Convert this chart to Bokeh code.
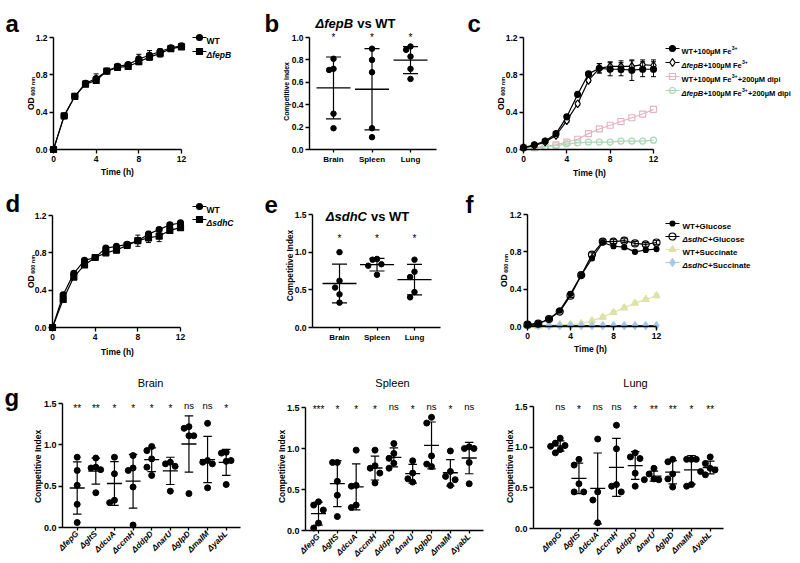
import math
import numpy as np
from bokeh.plotting import figure
from bokeh.models import Range1d, FixedTicker, PrintfTickFormatter, CustomJSTickFormatter
from bokeh.layouts import row, column
from bokeh.core.properties import value
from bokeh.embed import file_html
from bokeh.resources import INLINE

FONT = "Liberation Sans"

# ------------------------------------------------------------------ data
hours = list(range(13))

# panel a : WT vs dfepB growth
a_wt = [0.00, 0.36, 0.57, 0.71, 0.76, 0.84, 0.89, 0.91, 0.97, 1.01, 1.05, 1.09, 1.11]
a_wt_sd = [0.01, 0.01, 0.01, 0.02, 0.05, 0.02, 0.02, 0.02, 0.05, 0.05, 0.03, 0.02, 0.02]
a_fepB = [0.00, 0.36, 0.57, 0.70, 0.74, 0.84, 0.88, 0.89, 0.94, 0.99, 1.03, 1.08, 1.10]
a_fepB_sd = [0.01, 0.01, 0.01, 0.02, 0.03, 0.02, 0.02, 0.02, 0.03, 0.03, 0.04, 0.02, 0.02]

# panel b : competitive index dfepB vs WT
organs = ["Brain", "Spleen", "Lung"]
b_brain = [0.81, 0.72, 0.71, 0.32, 0.19]
b_spleen = [0.90, 0.80, 0.69, 0.19, 0.11]
b_lung = [0.92, 0.89, 0.83, 0.72, 0.63]
b_sig = ["*", "*", "*"]

# panel c : iron / dipyridyl growth
c_wt_fe = [0.02, 0.05, 0.09, 0.17, 0.35, 0.59, 0.81, 0.87, 0.86, 0.86, 0.85, 0.86, 0.86]
c_wt_fe_sd = [0.01, 0.01, 0.01, 0.02, 0.02, 0.02, 0.02, 0.05, 0.07, 0.07, 0.11, 0.08, 0.08]
c_fepB_fe = [0.02, 0.04, 0.08, 0.15, 0.31, 0.49, 0.74, 0.87, 0.89, 0.89, 0.89, 0.91, 0.90]
c_fepB_fe_sd = [0.01, 0.01, 0.01, 0.02, 0.02, 0.02, 0.02, 0.05, 0.05, 0.06, 0.06, 0.05, 0.06]
c_wt_dipi = [0.02, 0.02, 0.03, 0.05, 0.08, 0.11, 0.17, 0.22, 0.26, 0.30, 0.34, 0.38, 0.43]
c_fepB_dipi = [0.02, 0.02, 0.03, 0.04, 0.06, 0.07, 0.08, 0.08, 0.08, 0.09, 0.09, 0.09, 0.10]

# panel d : WT vs dsdhC growth
d_wt = [0.00, 0.35, 0.58, 0.72, 0.75, 0.85, 0.87, 0.89, 0.93, 1.00, 1.05, 1.10, 1.12]
d_wt_sd = [0.01, 0.01, 0.01, 0.01, 0.03, 0.01, 0.02, 0.02, 0.03, 0.03, 0.02, 0.02, 0.02]
d_sdhC = [0.00, 0.30, 0.54, 0.67, 0.75, 0.80, 0.83, 0.88, 0.93, 0.96, 0.98, 1.04, 1.07]
d_sdhC_sd = [0.01, 0.01, 0.01, 0.02, 0.03, 0.02, 0.03, 0.03, 0.06, 0.05, 0.06, 0.03, 0.03]

# panel e : competitive index dsdhC vs WT
e_brain = [1.00, 0.62, 0.53, 0.44, 0.33]
e_spleen = [0.91, 0.90, 0.84, 0.82, 0.70]
e_lung = [0.90, 0.74, 0.67, 0.47, 0.40]
e_sig = ["*", "*", "*"]

# panel f : glucose / succinate growth
f_wt_glc = [0.02, 0.03, 0.08, 0.17, 0.35, 0.55, 0.73, 0.90, 0.86, 0.85, 0.80, 0.82, 0.83]
f_sdhC_glc = [0.02, 0.03, 0.08, 0.16, 0.33, 0.55, 0.77, 0.91, 0.91, 0.92, 0.89, 0.88, 0.90]
f_wt_suc = [0.00, 0.00, 0.01, 0.02, 0.02, 0.03, 0.06, 0.10, 0.15, 0.20, 0.25, 0.29, 0.33]
f_sdhC_suc = [0.01, 0.01, 0.01, 0.01, 0.01, 0.01, 0.01, 0.01, 0.01, 0.01, 0.01, 0.01, 0.01]
f_sd = [0.01, 0.01, 0.01, 0.01, 0.02, 0.02, 0.02, 0.02, 0.02, 0.02, 0.02, 0.02, 0.02]

# panel g : mutants competitive index
genes = ["fepG", "gltS", "dcuA", "ccmH", "ddpD", "narU", "glpD", "malM", "yabL"]
g_brain = [
    [0.85, 0.69, 0.51, 0.28, 0.06],
    [0.84, 0.73, 0.72, 0.70, 0.42],
    [0.85, 0.65, 0.33, 0.30],
    [0.87, 0.72, 0.69, 0.49, 0.03],
    [0.98, 0.93, 0.83, 0.73, 0.63],
    [0.79, 0.77, 0.74, 0.44],
    [1.22, 1.20, 1.11, 1.11, 0.41],
    [1.26, 0.81, 0.79, 0.77, 0.48],
    [0.91, 0.90, 0.81, 0.80, 0.52],
]
g_brain_sig = ["**", "**", "*", "*", "*", "*", "ns", "ns", "*"]
g_spleen = [
    [0.35, 0.31, 0.25, 0.09, 0.03],
    [0.83, 0.83, 0.60, 0.43, 0.17],
    [0.98, 0.55, 0.54, 0.31, 0.28],
    [0.98, 0.79, 0.76, 0.70, 0.58],
    [1.06, 0.94, 0.88, 0.82, 0.76],
    [0.85, 0.70, 0.63, 0.59],
    [1.38, 1.31, 0.91, 0.81, 0.78],
    [0.97, 0.72, 0.66, 0.62, 0.55],
    [1.02, 1.00, 1.00, 0.83, 0.57],
]
g_spleen_sig = ["***", "*", "*", "*", "ns", "*", "ns", "*", "ns"]
g_lung = [
    [1.11, 1.05, 1.02, 1.01, 0.97, 0.93],
    [0.85, 0.78, 0.55, 0.45, 0.45],
    [1.10, 0.45, 0.35, 0.07],
    [1.27, 0.98, 0.54, 0.52, 0.45],
    [0.93, 0.88, 0.86, 0.68, 0.52],
    [0.74, 0.67, 0.61, 0.60, 0.60],
    [0.85, 0.82, 0.67, 0.61, 0.51],
    [0.85, 0.85, 0.85, 0.54, 0.52],
    [0.88, 0.80, 0.74, 0.72, 0.70, 0.66],
]
g_lung_sig = ["ns", "*", "ns", "ns", "*", "**", "**", "*", "**"]

# ------------------------------------------------------------------ helpers
WB = {' ': .278, '+': .584, '0': .556, '1': .556, '2': .556, '3': .556, '4': .556, '5': .556,
      '6': .556, '7': .556, '8': .556, '9': .556, 'µ': .611, 'M': .833, 'F': .611, 'e': .556,
      'd': .611, 'i': .278, 'p': .611, 'Δ': .70, 'f': .333, 'B': .722, 's': .556, 'h': .611,
      'C': .722, 'G': .778, 'l': .278, 'u': .611, 'c': .556, 'o': .611, 'S': .667, 'n': .611,
      'a': .556, 't': .333, 'W': .944, 'T': .611, 'v': .556, 'O': .778, 'D': .722, 'm': .889,
      '(': .333, ')': .333, '*': .389}


def tw(s, size):
    return sum(WB.get(ch, 0.6) for ch in s) * size


class Panel:
    def __init__(self, L, T, W, H, xa, ya):
        x0, X0, x1, X1 = xa
        y0, Y0, y1, Y1 = ya
        self.L, self.T = L, T
        self.sx = (X1 - X0) / (x1 - x0)
        self.xs = x0 - (X0 - L) / self.sx
        xe = self.xs + W / self.sx
        self.sy = (Y0 - Y1) / (y1 - y0)
        self.ye = y1 + (Y1 - T) / self.sy
        ys = self.ye - H / self.sy
        f = figure(width=W, height=H, x_range=Range1d(self.xs, xe), y_range=Range1d(ys, self.ye),
                   min_border=0, toolbar_location=None, output_backend="svg",
                   outline_line_color=None)
        f.grid.visible = False
        f.background_fill_color = "white"
        f.border_fill_color = "white"
        self.fig = f

    def dx(self, px):
        return self.xs + (px - self.L) / self.sx

    def dy(self, py):
        return self.ye - (py - self.T) / self.sy

    def wx(self, pw):
        return pw / self.sx

    def px(self, x):
        return self.L + (x - self.xs) * self.sx


def text(P, px, py, s, size, style="bold", align="center", baseline="middle", angle=0.0,
         color="black"):
    P.fig.text(x=[P.dx(px)], y=[P.dy(py)], text=[s], text_font=value(FONT),
               text_font_size=f"{size}px", text_font_style=style, text_align=align,
               text_baseline=baseline, angle=angle, text_color=color)


def rich(P, px, base_py, pieces, align="left"):
    widths = [tw(t, s) for t, s, st, r in pieces]
    x = px - (sum(widths) / 2 if align == "center" else 0)
    for (t, s, st, r), w in zip(pieces, widths):
        lead = len(t) - len(t.lstrip(" "))
        text(P, x + tw(" " * lead, s), base_py - r, t.lstrip(" "), s, style=st, align="left",
             baseline="alphabetic")
        x += w


def axes(P, xloc, yloc, xb, yb, xticks, yticks, yfmt, xformatter, xorient="horizontal",
         xstyle="bold", xsize="8px", ysize="8.5px"):
    f = P.fig
    xa = f.xaxis[0]
    ya = f.yaxis[0]
    xa.fixed_location = xloc
    ya.fixed_location = yloc
    xa.bounds = xb
    ya.bounds = yb
    xa.ticker = FixedTicker(ticks=xticks)
    ya.ticker = FixedTicker(ticks=yticks)
    ya.formatter = PrintfTickFormatter(format=yfmt)
    xa.formatter = xformatter
    for ax in (xa, ya):
        ax.axis_line_width = 1.4
        ax.axis_line_color = "black"
        ax.major_tick_line_width = 1.3
        ax.major_tick_line_color = "black"
        ax.major_tick_out = 4
        ax.major_tick_in = 0
        ax.minor_tick_out = 0
        ax.minor_tick_in = 0
        ax.major_label_text_font = FONT
        ax.major_label_text_font_style = "bold"
        ax.major_label_text_color = "black"
        ax.major_label_standoff = 2
    ya.major_label_text_font_size = ysize
    xa.major_label_orientation = xorient
    xa.major_label_text_font_style = xstyle
    xa.major_label_text_font_size = xsize


def od_label(P, cx, cy):
    w1 = tw("OD", 8.5)
    w2 = tw("600 nm", 5.5)
    start = cy + (w1 + 1.5 + w2) / 2
    text(P, cx, start, "OD", 8.5, align="left", angle=math.pi / 2)
    text(P, cx + 2.0, start - w1 - 1.5, "600 nm", 5.5, align="left", angle=math.pi / 2)


def curve(P, xs, ys, sd, marker, size, fill, color, lw=1.2, fill_alpha=1.0, line_color=None):
    f = P.fig
    lc = line_color or color
    f.line(xs, ys, line_color=lc, line_width=lw)
    if sd is not None:
        lo = [y - s for y, s in zip(ys, sd)]
        hi = [y + s for y, s in zip(ys, sd)]
        cw = P.wx(2.5)
        f.segment(xs, lo, xs, hi, line_color=color, line_width=1.0)
        f.segment([x - cw for x in xs], hi, [x + cw for x in xs], hi, line_color=color, line_width=1.0)
        f.segment([x - cw for x in xs], lo, [x + cw for x in xs], lo, line_color=color, line_width=1.0)
    f.scatter(xs, ys, marker=marker, size=size, fill_color=fill, fill_alpha=fill_alpha,
              line_color=color, line_width=1.2)


def legend_row(P, mx, tx, py, marker, size, fill, color, pieces, fill_alpha=1.0, tsize=7.5,
               line_color=None):
    f = P.fig
    y = P.dy(py)
    f.line([P.dx(mx - 7), P.dx(mx + 7)], [y, y], line_color=line_color or color, line_width=1.2)
    f.scatter([P.dx(mx)], [y], marker=marker, size=size, fill_color=fill, fill_alpha=fill_alpha,
              line_color=color, line_width=1.2)
    rich(P, tx, py + 0.36 * tsize, [(t, s or tsize, st, r) for t, s, st, r in pieces])


def swarm(vals, P, diam):
    order = sorted(range(len(vals)), key=lambda i: -vals[i])
    step = diam * 0.8
    placed = []
    offs = [0.0] * len(vals)
    for i in order:
        y = vals[i] * P.sy
        xx = 0.0
        for k in (0, -1, 1, -2, 2, -3, 3):
            xx = k * step
            if all(not (abs(xx - qx) < step * 0.9 and abs(y - qy) < diam * 1.5) for qx, qy in placed):
                break
        placed.append((xx, y))
        offs[i] = xx / P.sx
    return offs


def ci_groups(P, groups, diam, mean_px, cap_px, sig, sig_py, sig_size=10):
    f = P.fig
    for i, vals in enumerate(groups):
        m = float(np.mean(vals))
        s = float(np.std(vals, ddof=1))
        offs = swarm(vals, P, diam)
        f.scatter([i + o for o in offs], vals, marker="circle", size=diam, fill_color="black",
                  line_color="black")
        hw = P.wx(mean_px / 2)
        cw = P.wx(cap_px / 2)
        f.segment([i], [m - s], [i], [m + s], line_color="black", line_width=1.2)
        f.segment([i - hw], [m], [i + hw], [m], line_color="black", line_width=1.3)
        f.segment([i - cw, i - cw], [m - s, m + s], [i + cw, i + cw], [m - s, m + s],
                  line_color="black", line_width=1.2)
        mark = sig[i]
        if mark == "ns":
            text(P, P.px(i), sig_py + 0.27 * 9.5, mark, 9.5, style="normal", baseline="alphabetic")
        else:
            text(P, P.px(i), sig_py + 0.6 * sig_size, mark, sig_size, style="normal",
                 baseline="alphabetic")


def cat_formatter(labels):
    return CustomJSTickFormatter(args=dict(labels=labels),
                                 code="const i = Math.round(tick); return (i >= 0 && i < labels.length) ? labels[i] : '';")


def letter(P, x, base, s):
    text(P, x, base, s, 24, align="left", baseline="alphabetic")


# ------------------------------------------------------------------ panels (page pixels)
A = Panel(0, 0, 262, 180, (0, 53, 12, 181), (0, 149, 1.2, 37))
B = Panel(262, 0, 200, 180, (0, 333, 2, 410), (0, 149, 1.0, 37))
C = Panel(462, 0, 336, 180, (0, 523, 12, 653), (0, 149, 1.2, 37))
D = Panel(0, 180, 262, 185, (0, 52, 12, 180), (0, 327, 1.2, 215))
E = Panel(262, 180, 200, 185, (0, 339, 2, 414), (0, 327, 1.5, 214))
F = Panel(462, 180, 336, 185, (0, 527, 12, 656), (0, 326, 1.2, 214))
G1 = Panel(0, 365, 262, 195, (0, 76.7, 8, 225.7), (0, 527, 1.5, 403))
G2 = Panel(262, 365, 240, 195, (0, 318, 8, 468.7), (0, 530, 1.5, 407))
G3 = Panel(502, 365, 296, 195, (0, 559.7, 8, 709.7), (0, 528, 1.5, 406))

grow_ticks = [0, 4, 8, 12]
od_ticks = [0, 0.4, 0.8, 1.2]

for P in (A, C, D, F):
    axes(P, 0, 0, (0, 12), (0, 1.2), grow_ticks, od_ticks, "%.1f", PrintfTickFormatter(format="%d"),
         xsize="8.5px")

# ---- a
curve(A, hours, a_fepB, a_fepB_sd, "square", 6, "black", "black")
curve(A, hours, a_wt, a_wt_sd, "circle", 6, "black", "black")
letter(A, 5, 23, "a")
legend_row(A, 199, 206, 37, "circle", 6, "black", "black", [("WT", None, "bold", 0)], tsize=8.5)
legend_row(A, 199, 206, 51, "square", 6, "black", "black", [("ΔfepB", None, "bold italic", 0)],
           tsize=8.5)
text(A, 117, 171, "Time (h)", 8.5)
od_label(A, 30, 93)

# ---- b
axes(B, 0, B.dx(309), (B.dx(309), B.dx(436)), (0, 1.0), [0, 1, 2], [0, 0.2, 0.4, 0.6, 0.8, 1.0],
     "%.1f", cat_formatter(organs))
B.fig.xaxis[0].major_tick_out = 3
ci_groups(B, [b_brain, b_spleen, b_lung], 5.5, 34, 15, b_sig, 31)
letter(B, 264, 23, "b")
rich(B, 355, 18 + 0.36 * 13, [("ΔfepB", 13, "bold italic", 0), (" vs WT", 13, "bold", 0)],
     align="center")
text(B, 286, 91, "Competitive Index", 6.8, angle=math.pi / 2)

# ---- c
PINK = "#e6b3bf"
GREEN = "#a9d8b2"
curve(C, hours, c_wt_dipi, None, "square", 6, "white", PINK, fill_alpha=0.0)
curve(C, hours, c_fepB_dipi, None, "circle", 6, "white", GREEN, fill_alpha=0.0)
curve(C, hours, c_fepB_fe, c_fepB_fe_sd, "diamond", 8, "white", "black")
curve(C, hours, c_wt_fe, c_wt_fe_sd, "circle", 6, "black", "black")
letter(C, 467, 23, "c")
text(C, 589, 172, "Time (h)", 8.5)
od_label(C, 500, 93)
sup = ("3+", 5.2, "bold", 3.2)
legend_row(C, 672, 681, 48, "circle", 6, "black", "black",
           [("WT+100µM Fe", None, "bold", 0), sup])
legend_row(C, 672, 681, 62, "diamond", 8, "white", "black",
           [("ΔfepB", None, "bold italic", 0), ("+100µM Fe", None, "bold", 0), sup])
legend_row(C, 672, 681, 76, "square", 6, "white", PINK,
           [("WT+100µM Fe", None, "bold", 0), sup, ("+200µM dipi", None, "bold", 0)], fill_alpha=0.0)
legend_row(C, 672, 681, 90, "circle", 6, "white", GREEN,
           [("ΔfepB", None, "bold italic", 0), ("+100µM Fe", None, "bold", 0), sup,
            ("+200µM dipi", None, "bold", 0)], fill_alpha=0.0)

# ---- d
curve(D, hours, d_sdhC, d_sdhC_sd, "square", 6, "black", "black")
curve(D, hours, d_wt, d_wt_sd, "circle", 6, "black", "black")
letter(D, 5, 203, "d")
legend_row(D, 199, 206, 206, "circle", 6, "black", "black", [("WT", None, "bold", 0)], tsize=8.5)
legend_row(D, 199, 206, 219, "square", 6, "black", "black", [("ΔsdhC", None, "bold italic", 0)],
           tsize=8.5)
text(D, 117, 351, "Time (h)", 8.5)
od_label(D, 30, 271)

# ---- e
axes(E, 0, E.dx(312), (E.dx(312), E.dx(440)), (0, 1.5), [0, 1, 2], [0, 0.5, 1.0, 1.5],
     "%.1f", cat_formatter(organs))
E.fig.xaxis[0].major_tick_out = 3
ci_groups(E, [e_brain, e_spleen, e_lung], 5.5, 34, 15, e_sig, 232)
letter(E, 264, 204, "e")
rich(E, 367, 211 + 0.36 * 13, [("ΔsdhC", 13, "bold italic", 0), (" vs WT", 13, "bold", 0)],
     align="center")
text(E, 289, 265, "Competitive Index", 8.3, angle=math.pi / 2)

# ---- f
YEL = "#dfe2a6"
BLUE = "#a5c9ec"
curve(F, hours, f_wt_suc, f_sd, "triangle", 7, YEL, YEL)
curve(F, hours, f_sdhC_suc, None, "diamond", 8, BLUE, BLUE, line_color="#333333")
curve(F, hours, f_sdhC_glc, f_sd, "circle", 7, "white", "black", fill_alpha=0.0)
curve(F, hours, f_wt_glc, f_sd, "circle", 5, "black", "black")
letter(F, 465, 204, "f")
text(F, 590, 348, "Time (h)", 8.5)
od_label(F, 503, 270)
legend_row(F, 672, 682, 223, "circle", 5, "black", "black", [("WT+Glucose", None, "bold", 0)],
           tsize=8)
legend_row(F, 672, 682, 236, "circle", 7, "white", "black",
           [("ΔsdhC", None, "bold italic", 0), ("+Glucose", None, "bold", 0)], fill_alpha=0.0,
           tsize=8)
legend_row(F, 672, 682, 249, "triangle", 7, YEL, YEL, [("WT+Succinate", None, "bold", 0)], tsize=8)
legend_row(F, 672, 682, 262, "diamond", 8, BLUE, BLUE,
           [("ΔsdhC", None, "bold italic", 0), ("+Succinate", None, "bold", 0)], tsize=8)

# ---- g
gene_labels = ["Δ" + g for g in genes]
for P, yax, xend, groups, sig, title, tx, sig_py, ci_x in (
        (G1, 62, 240, g_brain, g_brain_sig, "Brain", 150, 402, 37),
        (G2, 305, 483, g_spleen, g_spleen_sig, "Spleen", 392, 403, 281),
        (G3, 533, 723, g_lung, g_lung_sig, "Lung", 635, 403, 509)):
    axes(P, 0, P.dx(yax), (P.dx(yax), P.dx(xend)), (0, 1.5), list(range(len(genes))),
         [0, 0.5, 1.0, 1.5], "%.1f", cat_formatter(gene_labels), xorient=math.pi / 4,
         xstyle="bold italic", xsize="8.2px", ysize="9px")
    P.fig.xaxis[0].major_tick_out = 3
    ci_groups(P, groups, 6, 15, 8.5, sig, sig_py)
    text(P, tx, 382, title, 11, style="normal")
    text(P, ci_x, 466, "Competitive Index", 8.5, angle=math.pi / 2)
letter(G1, 4, 397, "g")

layout = column(row(A.fig, B.fig, C.fig, spacing=0),
                row(D.fig, E.fig, F.fig, spacing=0),
                row(G1.fig, G2.fig, G3.fig, spacing=0), spacing=0)

open("out.html", "w").write(file_html(layout, INLINE))
